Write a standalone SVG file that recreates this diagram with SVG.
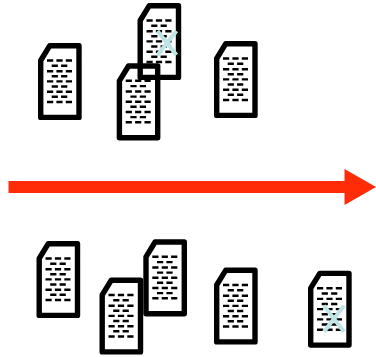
<svg xmlns="http://www.w3.org/2000/svg" width="376" height="357" viewBox="0 0 376 357">
<style>
.doc{fill:#fff;stroke:#000;stroke-width:5.4;stroke-linejoin:round}
.open{fill:none}
.d{fill:none;stroke:#000;stroke-width:2.4;stroke-dasharray:6.2 3.2}
.x{fill:none;stroke:#bfe4e6;stroke-width:4}
.arrow{fill:#ff2c07}
</style>
<defs>
<g id="marks">
<path class="d" d="M9 17.500H35M13.700 22.800H30M9 28.200H35M13.700 33.300H30M9 38.400H35M13.700 43.500H30M9 48.700H35M13.700 53.800H30M9 59H35"/>
</g>
<path id="shape" d="M2.700 17.500L11.800 2.700H41V74.400H2.700Z"/>
</defs>
<g id="doc-a" transform="translate(38 43)"><use href="#shape" class="doc"/><use href="#marks"/></g>
<g id="doc-b" transform="translate(137.500 3)"><use href="#shape" class="doc"/><use href="#marks"/><path class="x" d="M20 28L39 52M39 28L20 52"/></g>
<g id="doc-c" transform="translate(116.700 63.300)"><use href="#shape" class="doc open"/><use href="#marks"/></g>
<g id="doc-d" transform="translate(214 41)"><use href="#shape" class="doc"/><use href="#marks"/></g>
<g id="doc-e" transform="translate(36.500 241)"><use href="#shape" class="doc"/><use href="#marks"/></g>
<g id="doc-f" transform="translate(99.500 277.500)"><use href="#shape" class="doc"/><use href="#marks"/></g>
<g id="doc-g" transform="translate(143.300 239.300)"><use href="#shape" class="doc"/><use href="#marks"/></g>
<g id="doc-h" transform="translate(214 267.500)"><use href="#shape" class="doc"/><use href="#marks"/></g>
<g id="doc-i" transform="translate(308 270.700)"><use href="#shape" class="doc"/><use href="#marks"/><path class="x" d="M16 35L36 61M36 35L16 61"/></g>
<g id="connectors"><path class="arrow" d="M8.500 181H344.500V169L376 187L344.500 205V193H8.500Z"/></g>
</svg>
